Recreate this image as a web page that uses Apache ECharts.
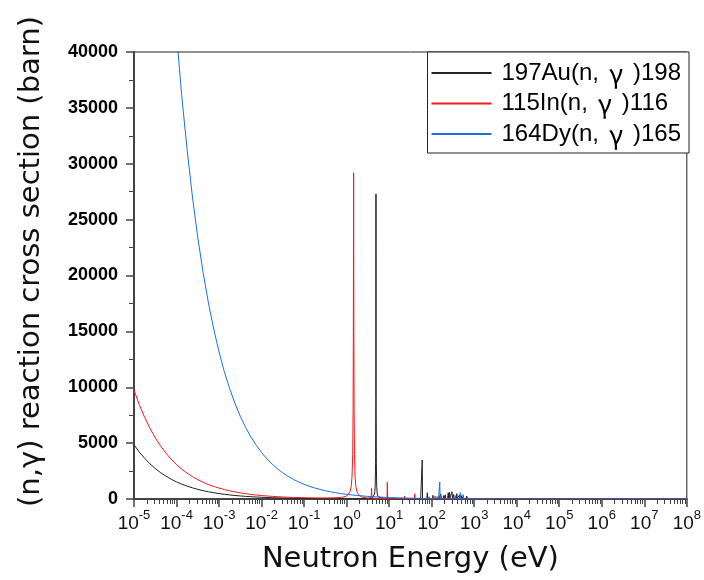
<!DOCTYPE html>
<html>
<head>
<meta charset="utf-8">
<script src="https://cdn.jsdelivr.net/npm/echarts@6/dist/echarts.min.js"></script>
<style>
  html, body { margin: 0; padding: 0; background: #fff; }
  #chart { width: 704px; height: 580px; }
</style>
</head>
<body>
<div id="chart"></div>
<script>
const seriesNames = ["197Au(n,γ)198", "115In(n,γ)116", "164Dy(n,γ)165"]
const seriesColors = ["#222222", "#ee1c1c", "#1e6fdc"]
const energyTicks = [1e-5, 1e-4, 1e-3, 1e-2, 1e-1, 1, 10, 100, 1e3, 1e4, 1e5, 1e6, 1e7, 1e8]
const yTicks = [0, 5000, 10000, 15000, 20000, 25000, 30000, 35000, 40000]

// [energy eV, cross section barn]
const auCurve = [
  [1e-5, 4850], [1.33e-5, 4200], [1.78e-5, 3640], [2.37e-5, 3150], [3.16e-5, 2730], [4.22e-5, 2360], [5.62e-5, 2050], [7.5e-5, 1770],
  [1e-4, 1530], [1.33e-4, 1330], [1.78e-4, 1150], [2.37e-4, 1000], [3.16e-4, 863], [4.22e-4, 747], [5.62e-4, 647], [7.5e-4, 561],
  [1e-3, 485], [1.33e-3, 420], [1.78e-3, 364], [2.37e-3, 315], [3.16e-3, 273], [4.22e-3, 236], [5.62e-3, 205], [7.5e-3, 177],
  [1e-2, 153], [1.78e-2, 115], [3.16e-2, 86], [5.62e-2, 65], [0.1, 48], [0.178, 36], [0.316, 28], [0.562, 24], [1, 22], [2, 25],
  [3, 40], [4, 90], [4.3, 200], [4.55, 450], [4.7, 1100], [4.8, 3200], [4.86, 9000], [4.88, 16000], [4.9, 27300], [4.92, 16000],
  [4.94, 9000], [5.0, 3200], [5.1, 1100], [5.25, 450], [5.5, 200], [6, 80], [8, 30], [15, 15], [30, 12], [55, 15],
  [59, 30], [60, 3490], [61, 30], [77, 20], [79, 560], [81, 20], [105, 20], [107, 330], [109, 20], [143, 20], [145, 200], [147, 20],
  [161, 25], [164, 450], [167, 25], [188, 25], [190, 300], [192, 25], [208, 25], [210, 380], [212, 25], [240, 30], [245, 560], [250, 30],
  [258, 30], [262, 600], [266, 30], [290, 30], [300, 650], [310, 30], [325, 30], [330, 400], [335, 30], [385, 25], [390, 480], [395, 25],
  [440, 20], [450, 350], [460, 20], [495, 20], [500, 300], [505, 20], [555, 20], [560, 250], [565, 15], [650, 15], [660, 270], [670, 15],
  [790, 12], [800, 150], [810, 12], [990, 10], [1000, 110], [1010, 10], [1300, 8], [1320, 80], [1340, 8], [1900, 5], [2000, 50], [2100, 5],
  [3000, 3], [1e4, 1.5], [1e5, 0.5], [1e6, 0.2], [1e7, 0.1], [1e8, 0.05]
]

const inCurve = [
  [1e-5, 9750], [1.33e-5, 8440], [1.78e-5, 7310], [2.37e-5, 6330], [3.16e-5, 5480], [4.22e-5, 4750], [5.62e-5, 4110], [7.5e-5, 3560],
  [1e-4, 3080], [1.33e-4, 2670], [1.78e-4, 2310], [2.37e-4, 2000], [3.16e-4, 1735], [4.22e-4, 1500], [5.62e-4, 1300], [7.5e-4, 1127],
  [1e-3, 976], [1.33e-3, 845], [1.78e-3, 732], [2.37e-3, 634], [3.16e-3, 549], [4.22e-3, 475], [5.62e-3, 412], [7.5e-3, 356],
  [1e-2, 310], [1.78e-2, 235], [3.16e-2, 180], [5.62e-2, 140], [0.1, 115], [0.178, 98], [0.316, 92], [0.562, 110], [0.8, 160],
  [1.0, 260], [1.1, 400], [1.2, 650], [1.28, 1100], [1.34, 2000], [1.39, 4000], [1.42, 8000], [1.44, 15000], [1.46, 29200],
  [1.48, 15000], [1.5, 8000], [1.53, 4000], [1.58, 2000], [1.65, 1100], [1.75, 650], [1.9, 400], [2.2, 200], [3.0, 80],
  [3.7, 90], [3.8, 300], [3.86, 960], [3.92, 300], [4.05, 80], [6, 30], [8.9, 50], [9.07, 1490], [9.25, 50], [12, 20],
  [22.6, 15], [23, 270], [23.4, 15], [39, 15], [40, 470], [41, 15], [85, 15], [87, 200], [89, 15], [100, 20], [103, 150], [106, 20],
  [118, 20], [120, 260], [122, 20], [135, 20], [138, 200], [141, 20], [165, 20], [170, 240], [175, 20], [200, 20], [205, 180], [210, 20],
  [230, 15], [235, 260], [240, 15], [275, 15], [280, 170], [285, 15], [340, 12], [350, 150], [360, 12], [420, 10], [430, 120], [440, 10],
  [600, 8], [620, 90], [640, 8], [1000, 5], [3000, 2], [1e4, 1], [1e5, 0.4], [1e6, 0.15], [1e7, 0.08], [1e8, 0.04]
]

const dyCurve = [
  [7.5e-5, 48000], [1e-4, 41600], [1.33e-4, 36030], [1.78e-4, 31200], [2.37e-4, 27020], [3.16e-4, 23400], [4.22e-4, 20260],
  [5.62e-4, 17550], [7.5e-4, 15200], [1e-3, 13160], [1.33e-3, 11400], [1.78e-3, 9870], [2.37e-3, 8550], [3.16e-3, 7400],
  [4.22e-3, 6410], [5.62e-3, 5550], [7.5e-3, 4810], [1e-2, 4160], [1.33e-2, 3600], [1.78e-2, 3120], [2.37e-2, 2700],
  [3.16e-2, 2340], [4.22e-2, 2030], [5.62e-2, 1755], [7.5e-2, 1520], [0.1, 1316], [0.133, 1140], [0.178, 987], [0.237, 855],
  [0.316, 740], [0.422, 641], [0.562, 555], [0.75, 481], [1, 416], [1.78, 312], [3.16, 234], [5.62, 175], [10, 131],
  [17.8, 98], [31.6, 74], [56.2, 55], [100, 42], [145, 40], [152, 60], [155, 1520], [158, 60], [200, 30],
  [295, 25], [300, 200], [305, 25], [350, 25], [360, 300], [370, 25], [460, 25], [470, 560], [480, 25],
  [540, 20], [550, 400], [560, 20], [690, 15], [700, 200], [710, 15], [880, 12], [900, 150], [920, 12],
  [1180, 10], [1200, 80], [1220, 10], [2000, 5], [1e4, 2], [1e5, 0.6], [1e6, 0.25], [1e7, 0.1], [1e8, 0.05]
]

const curves = [auCurve, inCurve, dyCurve]

// minor log ticks at 2..9 within each decade
const minorTicks = []
for (let d = -5; d < 8; d++) {
  for (let m = 2; m <= 9; m++) minorTicks.push(m * Math.pow(10, d))
}

const axisColor = "#444"
const chart = echarts.init(document.getElementById("chart"), null, { renderer: "canvas" })

chart.setOption({
  animation: false,
  grid: { left: 134, right: 15, top: 52, bottom: 81, show: true, borderColor: "#222", borderWidth: 1 },
  legend: {
    orient: "vertical",
    right: 15,
    top: 52,
    padding: [8, 8, 6, 3],
    itemWidth: 60,
    itemHeight: 14,
    itemGap: 4.5,
    borderColor: "#222",
    borderWidth: 1,
    backgroundColor: "#fff",
    itemStyle: { opacity: 0 },
    formatter: (name) => name.replace("γ", "{g|γ}"),
    textStyle: {
      fontFamily: "Liberation Sans",
      fontSize: 24,
      lineHeight: 26,
      color: "#000",
      padding: [0, 0, 0, 5],
      rich: {
        g: { fontFamily: "Noto Sans CJK JP", fontSize: 26, lineHeight: 26, color: "#000", padding: [0, 10, 0, 10] }
      }
    }
  },
  xAxis: [
    {
      type: "log",
      logBase: 10,
      min: 1e-5,
      max: 1e8,
      name: "Neutron Energy (eV)",
      nameLocation: "middle",
      nameGap: 46,
      nameTextStyle: { fontFamily: "DejaVu Sans", fontSize: 29, color: "#111" },
      axisLine: { lineStyle: { color: axisColor, width: 2 } },
      axisTick: { length: 8, customValues: energyTicks, lineStyle: { color: axisColor, width: 1.5 } },
      axisLabel: {
        customValues: energyTicks,
        margin: 10,
        formatter: (value) => "{b|10}{s|" + Math.round(Math.log10(value)) + "}",
        rich: {
          b: { fontFamily: "Liberation Sans", fontSize: 19, lineHeight: 24, verticalAlign: "bottom", color: "#111" },
          s: { fontFamily: "Liberation Sans", fontSize: 13, lineHeight: 24, verticalAlign: "top", color: "#111" }
        }
      },
      splitLine: { show: false }
    },
    {
      type: "log",
      logBase: 10,
      min: 1e-5,
      max: 1e8,
      position: "bottom",
      axisLine: { show: false },
      axisTick: { length: 5, customValues: minorTicks, lineStyle: { color: axisColor, width: 1 } },
      axisLabel: { show: false },
      splitLine: { show: false }
    }
  ],
  yAxis: {
    type: "value",
    min: yTicks[0],
    max: yTicks[yTicks.length - 1],
    interval: 5000,
    name: "(n,γ) reaction cross section (barn)",
    nameLocation: "middle",
    nameRotate: 90,
    nameGap: 88,
    nameTextStyle: { fontFamily: "DejaVu Sans", fontSize: 29, color: "#111", padding: [0, 0, 0, 28] },
    axisLine: { show: true, lineStyle: { color: axisColor, width: 2 } },
    axisTick: { show: true, length: 8, lineStyle: { color: axisColor, width: 1.5 } },
    minorTick: { show: true, splitNumber: 2, length: 5, lineStyle: { color: axisColor, width: 1 } },
    axisLabel: {
      margin: 16,
      fontFamily: "Liberation Sans",
      fontWeight: "bold",
      fontSize: 18,
      color: "#000",
      formatter: (value) => String(value)
    },
    splitLine: { show: false }
  },
  series: curves.map((data, i) => ({
    name: seriesNames[i],
    type: "line",
    xAxisIndex: 0,
    data,
    symbol: "none",
    clip: true,
    color: seriesColors[i],
    lineStyle: { color: seriesColors[i], width: 1 }
  }))
})
</script>
</body>
</html>
